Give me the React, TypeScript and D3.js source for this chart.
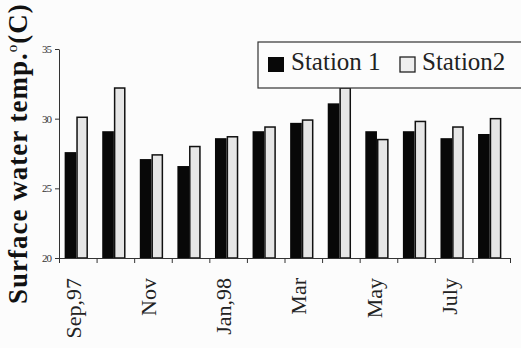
import React, { useEffect, useRef } from "react";
import * as d3 from "d3";

const months = ["Sep,97", "Oct", "Nov", "Dec", "Jan,98", "Feb", "Mar", "Apr", "May", "Jun", "July", "Aug"];
const shownLabels = ["Sep,97", "Nov", "Jan,98", "Mar", "May", "July"];
const station1 = [27.6, 29.1, 27.1, 26.6, 28.6, 29.1, 29.7, 31.1, 29.1, 29.1, 28.6, 28.9];
const station2 = [30.1, 32.2, 27.4, 28.0, 28.7, 29.4, 29.9, 32.2, 28.5, 29.8, 29.4, 30.0];
const yTicks = [20, 25, 30, 35];
const seriesNames = ["Station 1", "Station2"];

const serif = "'Liberation Serif', 'Times New Roman', serif";

const App = () => {
  const ref = useRef<SVGSVGElement>(null);

  useEffect(() => {
    const width = 521;
    const height = 348;
    const marginLeft = 59;
    const marginRight = 14;
    const marginTop = 49;
    const marginBottom = 90;

    const svg = d3.select(ref.current);
    svg.selectAll("*").remove();

    svg.append("rect").attr("width", width).attr("height", height).attr("fill", "#fcfcfc");

    const x = d3
      .scaleBand()
      .domain(months)
      .range([marginLeft, width - marginRight])
      .paddingInner(0.38)
      .paddingOuter(0.15);

    const xSub = d3
      .scaleBand()
      .domain(["s1", "s2"])
      .range([0, x.bandwidth()]);

    const y = d3
      .scaleLinear()
      .domain([20, 35])
      .range([height - marginBottom, marginTop]);

    // bars
    const g = svg.append("g");
    months.forEach((m, i) => {
      g.append("rect")
        .attr("x", x(m)! + xSub("s1")!)
        .attr("y", y(station1[i]))
        .attr("width", xSub.bandwidth())
        .attr("height", y(20) - y(station1[i]))
        .attr("fill", "#080808");
      g.append("rect")
        .attr("x", x(m)! + xSub("s2")! + 0.75)
        .attr("y", y(station2[i]))
        .attr("width", xSub.bandwidth() - 1.5)
        .attr("height", y(20) - y(station2[i]))
        .attr("fill", "#e6e6e6")
        .attr("stroke", "#111")
        .attr("stroke-width", 1.5);
    });

    // y axis
    svg
      .append("g")
      .attr("transform", `translate(${marginLeft},0)`)
      .call(d3.axisLeft(y).tickValues(yTicks).tickSize(4).tickSizeOuter(0).tickPadding(4))
      .call((a) => a.select(".domain").attr("stroke", "#333"))
      .call((a) => a.selectAll(".tick line").attr("stroke", "#333"))
      .call((a) =>
        a
          .selectAll(".tick text")
          .style("font-family", serif)
          .style("font-size", "11px")
          .attr("letter-spacing", -1)
          .attr("fill", "#333")
      );

    // x axis: ticks at band boundaries
    const step = x.step();
    const start = x.range()[0];
    const xBound = d3
      .scaleLinear()
      .domain([0, months.length])
      .range([start, start + step * months.length]);
    svg
      .append("g")
      .attr("transform", `translate(0,${height - marginBottom})`)
      .call(d3.axisBottom(xBound).tickValues(d3.range(months.length + 1)).tickSize(5).tickFormat(() => ""))
      .call((a) => a.select(".domain").attr("stroke", "#333"))
      .call((a) => a.selectAll(".tick line").attr("stroke", "#333"));

    // x labels
    shownLabels.forEach((lab) => {
      const cx = x(lab)! + x.bandwidth() / 2;
      svg
        .append("text")
        .attr("transform", `translate(${cx - 3},${height - marginBottom + 20}) rotate(-90)`)
        .attr("text-anchor", "end")
        .attr("dy", "0.35em")
        .style("font-family", serif)
        .style("font-size", "22px")
        .attr("fill", "#222")
        .text(lab);
    });

    // y title
    const title = svg
      .append("text")
      .attr("transform", "translate(27,304) rotate(-90)")
      .style("font-family", serif)
      .style("font-weight", "bold")
      .style("font-size", "27px")
      .attr("letter-spacing", 1)
      .attr("fill", "#111");
    title.append("tspan").text("Surface water temp.");
    title.append("tspan").attr("dy", -10).style("font-size", "15px").style("font-weight", "normal").text("o");
    title.append("tspan").attr("dy", 10).text("(C)");

    // legend
    const lg = svg.append("g");
    lg.append("rect")
      .attr("x", 258)
      .attr("y", 42)
      .attr("width", 280)
      .attr("height", 46)
      .attr("fill", "#fcfcfc")
      .attr("stroke", "#333")
      .attr("stroke-width", 1.2);
    lg.append("rect").attr("x", 268).attr("y", 57).attr("width", 16).attr("height", 15).attr("fill", "#080808");
    lg.append("text")
      .attr("x", 291)
      .attr("y", 70)
      .style("font-family", serif)
      .style("font-size", "25px")
      .attr("fill", "#222")
      .text(seriesNames[0]);
    lg.append("rect")
      .attr("x", 400)
      .attr("y", 57)
      .attr("width", 15)
      .attr("height", 15)
      .attr("fill", "#eeeeee")
      .attr("stroke", "#222")
      .attr("stroke-width", 1.3);
    lg.append("text")
      .attr("x", 422)
      .attr("y", 70)
      .style("font-family", serif)
      .style("font-size", "25px")
      .attr("fill", "#222")
      .text(seriesNames[1]);
  }, []);

  return (
    <svg
      ref={ref}
      width={521}
      height={348}
      viewBox="0 0 521 348"
      style={{ position: "absolute", left: 0, top: 0 }}
    ></svg>
  );
};

export default App;
